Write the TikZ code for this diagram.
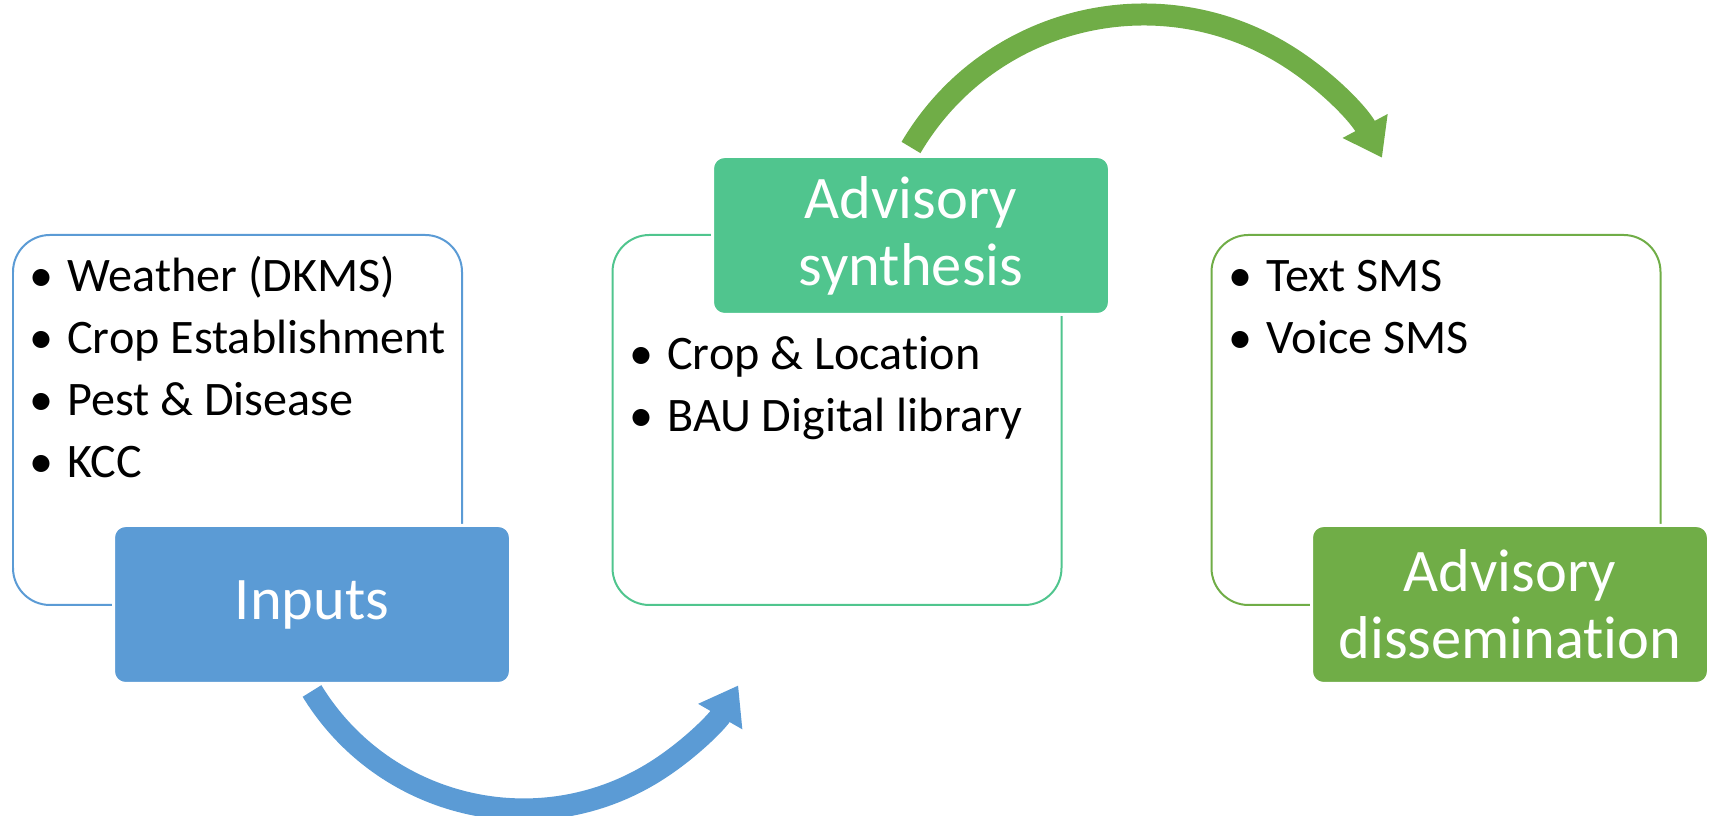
\documentclass[tikz,border=0pt]{standalone}
\usepackage{fontspec}
\setmainfont[Ligatures=NoCommon]{Carlito}
\usepackage{tikz}
\usetikzlibrary{arrows.meta}
\usetikzlibrary{calc}
\usetikzlibrary{positioning}
\tikzset{outbox/.style = {draw, rounded corners=0.74cm, line width=0.04cm,
                          minimum width=8.98cm, minimum height=7.4cm},
         titlebox/.style = {draw=white, line width=0.06cm, rounded corners=0.24cm,
                            minimum width=7.94cm, minimum height=3.16cm,
                            text=white, align=center,
                            font=\fontsize{34.4}{38.1}\selectfont},
         item/.style = {anchor=base west, inner sep=0,
                        font=\fontsize{27.4}{35}\selectfont},
         flowarrow/.style = {line width=0.44cm,
                             -{Triangle[length=0.72cm, width=0.97cm]}}}
\definecolor{inblue}{RGB}{91,155,213}
\definecolor{syngreen}{RGB}{80,197,142}
\definecolor{disgreen}{RGB}{112,173,71}
\newcommand{\bul}[1]{\makebox[1.02cm][c]{\textbullet}#1}

\begin{document}
\begin{tikzpicture}
      \useasboundingbox (0, 0) rectangle (34.22, 16.32);

      % inputs
      \node [outbox, draw=inblue] (inputsbox) at (4.75, 7.92) {};
      \node [titlebox, fill=inblue] (inputs) at (6.24, 4.23) {Inputs};
      \node [item] (weather) at (0.32, 10.48) {\bul{Weather (DKMS)}};
      \node [item] (cropest) at (0.32, 9.246) {\bul{Crop Establishment}};
      \node [item] (pest) at (0.32, 8.012) {\bul{Pest \& Disease}};
      \node [item] (kcc) at (0.32, 6.778) {\bul{KCC}};

      % synthesis
      \node [outbox, draw=syngreen] (synthesisbox) at (16.74, 7.92) {};
      \node [titlebox, fill=syngreen] (synthesis) at (18.22, 11.61) {Advisory\\synthesis};
      \node [item] (croploc) at (12.32, 8.92) {\bul{Crop \& Location}};
      \node [item] (baulib) at (12.32, 7.686) {\bul{BAU Digital library}};

      % dissemination
      \node [outbox, draw=disgreen] (dissembox) at (28.72, 7.92) {};
      \node [titlebox, fill=disgreen] (dissem) at (30.2, 4.23) {Advisory\\dissemination};
      \node [item] (textsms) at (24.30, 10.48) {\bul{Text SMS}};
      \node [item] (voicesms) at (24.30, 9.246) {\bul{Voice SMS}};

      \draw [flowarrow, inblue] ([yshift=-0.12cm]inputs.south)
            arc [start angle=211.5, end angle=330, radius=4.96cm];
      \draw [flowarrow, disgreen] ([yshift=0.15cm]synthesis.north)
            arc [start angle=149.5, end angle=28, radius=5.4cm];
\end{tikzpicture}
\end{document}
